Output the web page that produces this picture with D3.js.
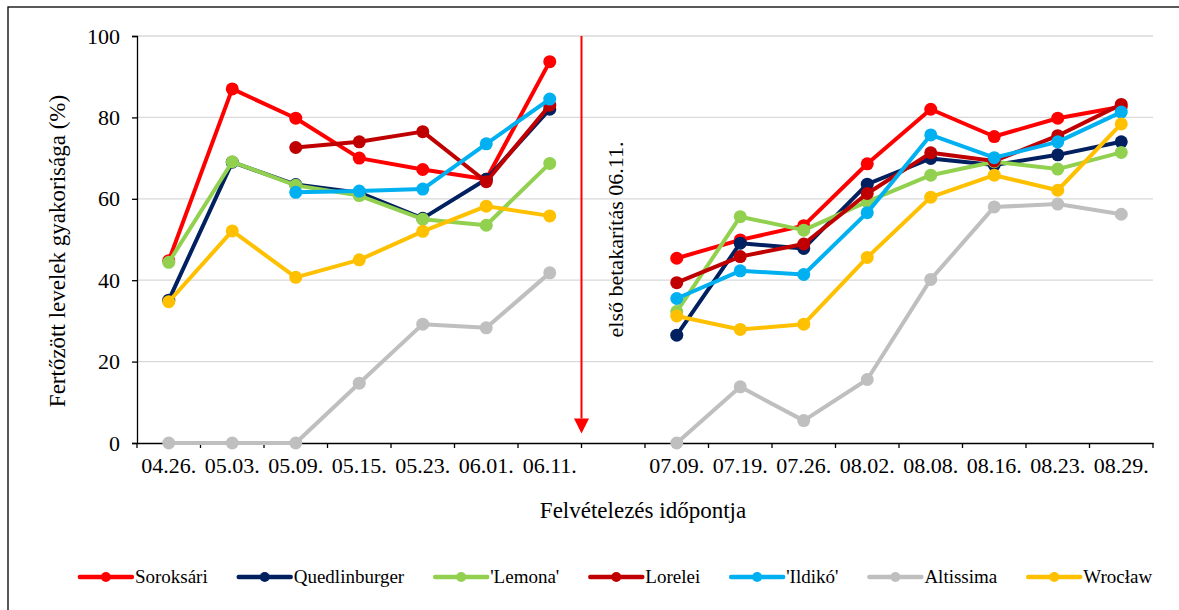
<!DOCTYPE html>
<html>
<head>
<meta charset="utf-8">
<script src="https://cdnjs.cloudflare.com/ajax/libs/d3/7.8.5/d3.min.js"></script>
<style>
  body { margin: 0; background: #fff; }
</style>
</head>
<body>
<div id="chart"></div>
<script>
// dates of the survey, with an empty slot between the two periods
const dates = ["04.26.", "05.03.", "05.09.", "05.15.", "05.23.", "06.01.", "06.11.", "",
               "07.09.", "07.19.", "07.26.", "08.02.", "08.08.", "08.16.", "08.23.", "08.29."];

const soroksari    = [44.8, 87.0, 79.8, 70.0, 67.2, 64.8, 93.7, null, 45.4, 49.9, 53.4, 68.6, 82.0, 75.3, 79.8, 82.6];
const quedlinburger = [35.1, 69.0, 63.5, 61.5, 55.2, 64.8, 82.0, null, 26.5, 49.1, 47.8, 63.6, 69.9, 68.3, 70.8, 74.0];
const lemona       = [44.4, 69.1, 63.3, 60.8, 55.0, 53.5, 68.7, null, 32.3, 55.6, 52.3, 59.3, 65.8, 69.1, 67.3, 71.4];
const lorelei      = [null, null, 72.6, 74.0, 76.5, 64.2, 83.0, null, 39.4, 45.8, 48.9, 61.3, 71.3, 69.3, 75.5, 83.2];
const ildiko       = [null, null, 61.6, 61.9, 62.4, 73.5, 84.5, null, 35.5, 42.3, 41.4, 56.6, 75.7, 70.1, 74.0, 81.3];
const altissima    = [0, 0, 0, 14.7, 29.2, 28.3, 41.8, null, 0, 13.8, 5.5, 15.6, 40.2, 58.0, 58.7, 56.2];
const wroclaw      = [34.7, 52.1, 40.7, 45.0, 52.0, 58.2, 55.8, null, 31.2, 27.9, 29.2, 45.6, 60.4, 65.8, 62.1, 78.4];

const seriesNames = ["Soroksári", "Quedlinburger", "'Lemona'", "Lorelei", "'Ildikó'", "Altissima", "Wrocław"];
const seriesValues = [soroksari, quedlinburger, lemona, lorelei, ildiko, altissima, wroclaw];
const colors = ["#ff0000", "#002060", "#92d050", "#c00000", "#00b0f0", "#bfbfbf", "#ffc000"];

const yTicks = [0, 20, 40, 60, 80, 100];
const harvestSlot = 7; // arrow drawn at the left edge of the empty slot
const harvestLabel = "első betakarítás 06.11.";

const FONT = "'Liberation Serif'";
const width = 1179, height = 610;
const margin = {top: 36, right: 26, bottom: 167, left: 137};

let svg = d3.select("#chart")
    .append("svg")
    .attr("width", width)
    .attr("height", height);

// outer frame
svg.append("rect")
    .attr("x", 8).attr("y", 7)
    .attr("width", width + 20).attr("height", height + 20)
    .attr("fill", "none")
    .attr("stroke", "#000")
    .attr("stroke-width", 1.3);

let g = svg.append("g")
    .attr("transform", "translate(" + margin.left + "," + margin.top + ")");

let plotW = width - margin.left - margin.right;
let plotH = height - margin.top - margin.bottom;

let x = d3.scaleBand()
    .domain(dates)
    .range([0, plotW])
    .padding(0);

let y = d3.scaleLinear()
    .domain([0, 100])
    .range([plotH, 0]);

// gridlines
g.selectAll(".grid")
    .data(yTicks.slice(1))
    .enter()
    .append("line")
    .attr("x1", 0).attr("x2", plotW)
    .attr("y1", d => y(d)).attr("y2", d => y(d))
    .attr("stroke", "#d9d9d9")
    .attr("stroke-width", 1.3);

// y axis
let yAxis = g.append("g")
    .call(d3.axisLeft(y).tickValues(yTicks).tickSize(5).tickPadding(12));
yAxis.attr("font-family", null);
yAxis.select(".domain").attr("stroke", "#000").attr("stroke-width", 1.3);
yAxis.selectAll(".tick line").attr("stroke", "#000").attr("stroke-width", 1.3);
yAxis.selectAll("text")
    .attr("fill", "#000")
    .style("font-size", "22px")
    .style("font-family", FONT);

// x axis: labels at band centres, tick marks on the band edges
let xAxis = g.append("g")
    .attr("transform", "translate(0," + plotH + ")")
    .call(d3.axisBottom(x).tickSize(0).tickPadding(14));
xAxis.attr("font-family", null);
xAxis.select(".domain").attr("stroke", "#000").attr("stroke-width", 1.3);
xAxis.selectAll("text")
    .attr("fill", "#000")
    .style("font-size", "22px")
    .style("font-family", FONT);

let edges = dates.map(d => x(d)).concat([plotW]);
xAxis.selectAll(".edge")
    .data(edges)
    .enter()
    .append("line")
    .attr("x1", d => d).attr("x2", d => d)
    .attr("y1", 0).attr("y2", 5)
    .attr("stroke", "#000")
    .attr("stroke-width", 1.3);

// harvest arrow
let ax = x(dates[harvestSlot]);
g.append("line")
    .attr("x1", ax).attr("x2", ax)
    .attr("y1", 0).attr("y2", y(6))
    .attr("stroke", "#ff0000")
    .attr("stroke-width", 2);
g.append("path")
    .attr("d", "M" + (ax - 7.5) + "," + y(6) + "L" + (ax + 7.5) + "," + y(6) + "L" + ax + "," + (y(6) + 15) + "Z")
    .attr("fill", "#ff0000");

g.append("text")
    .text(harvestLabel)
    .attr("transform", "translate(" + (ax + 41) + "," + y(50) + ")rotate(-90)")
    .style("text-anchor", "middle")
    .style("font-family", FONT)
    .style("font-size", "22px");

// series
let line = d3.line()
    .defined(d => d != null)
    .x((d, i) => x(dates[i]) + x.bandwidth() / 2)
    .y(d => y(d));

seriesValues.forEach(function(vals, s) {
    g.append("path")
        .datum(vals)
        .attr("d", line)
        .attr("fill", "none")
        .attr("stroke", colors[s])
        .attr("stroke-width", 4)
        .attr("stroke-linejoin", "round");
    g.selectAll(".pt" + s)
        .data(vals.map((v, i) => ({v: v, i: i})).filter(d => d.v != null))
        .enter()
        .append("circle")
        .attr("cx", d => x(dates[d.i]) + x.bandwidth() / 2)
        .attr("cy", d => y(d.v))
        .attr("r", 6.5)
        .attr("fill", colors[s]);
});

// axis titles
svg.append("text")
    .text("Felvételezés időpontja")
    .attr("x", 643).attr("y", 518)
    .style("text-anchor", "middle")
    .style("font-family", FONT)
    .style("font-size", "23px");

svg.append("text")
    .text("Fertőzött levelek gyakorisága (%)")
    .attr("transform", "translate(65,251)rotate(-90)")
    .style("text-anchor", "middle")
    .style("font-family", FONT)
    .style("font-size", "23px");

// legend
let legend = svg.append("g");
let lx = 0;
seriesNames.forEach(function(name, s) {
    let item = legend.append("g").attr("transform", "translate(" + lx + ",0)");
    item.append("line")
        .attr("x1", 0).attr("x2", 52)
        .attr("y1", 0).attr("y2", 0)
        .attr("stroke", colors[s])
        .attr("stroke-width", 4.5)
        .attr("stroke-linecap", "round");
    item.append("circle")
        .attr("cx", 26).attr("cy", 0).attr("r", 5)
        .attr("fill", colors[s]);
    let t = item.append("text")
        .text(name)
        .attr("x", 55).attr("y", 6)
        .style("font-family", FONT)
        .style("font-size", "19px");
    lx += 55 + t.node().getComputedTextLength() + 31;
});
lx -= 31;
legend.attr("transform", "translate(" + (616 - lx / 2) + ",577)");
</script>
</body>
</html>
